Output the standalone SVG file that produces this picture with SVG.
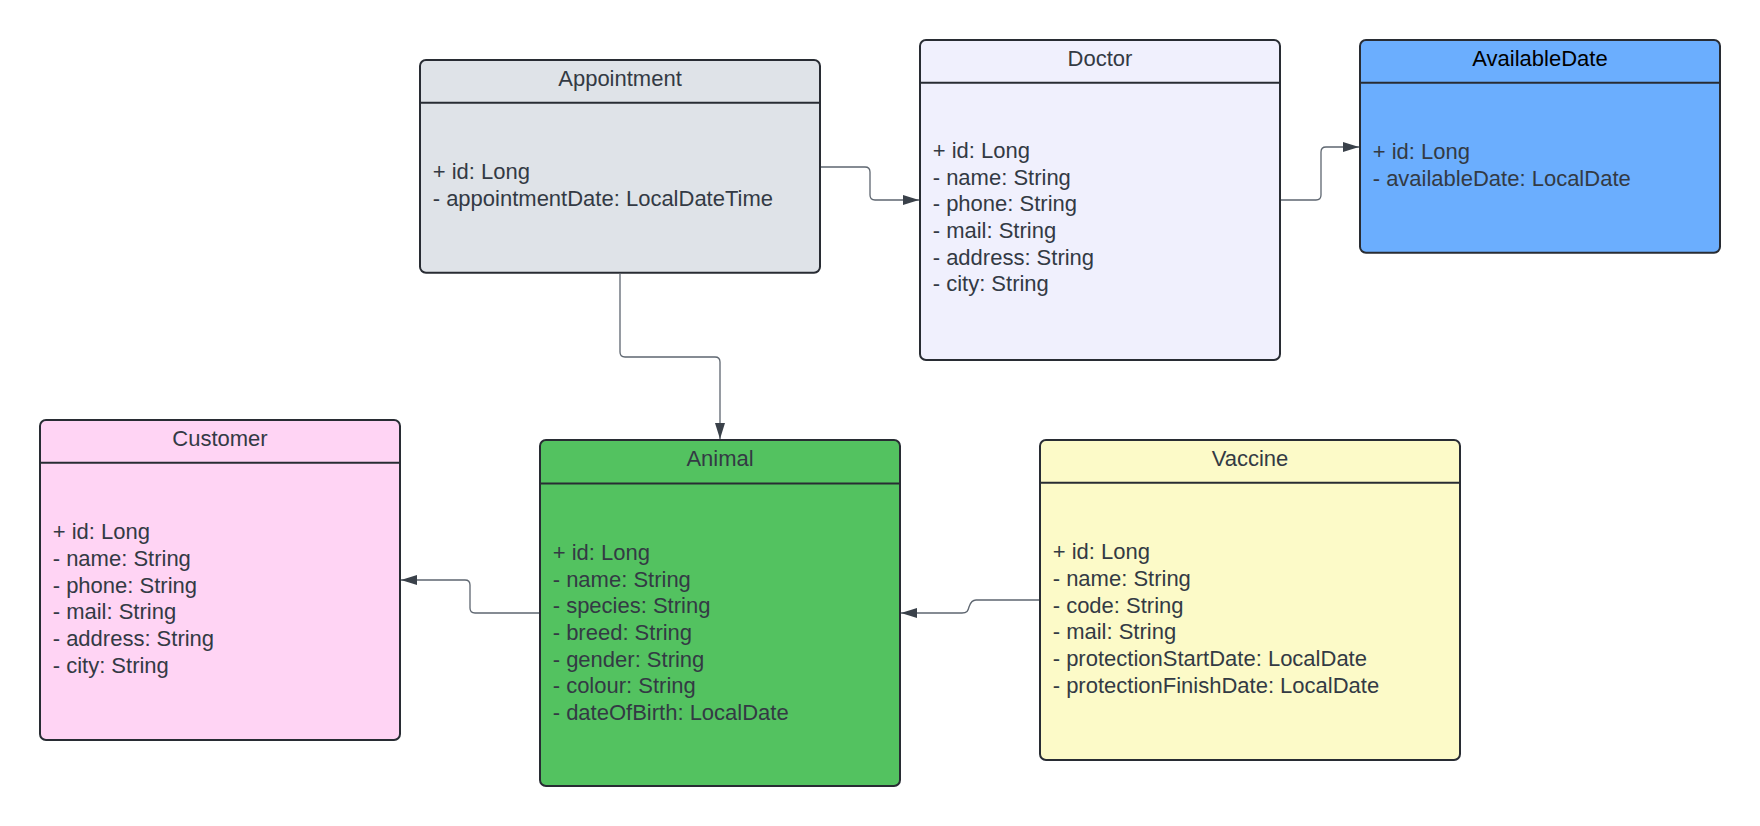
<svg xmlns="http://www.w3.org/2000/svg" width="1760" height="826" viewBox="0 0 1760 826">
<style>
.box{stroke:#282c33;stroke-width:2}
.hl{stroke:#282c33;stroke-width:2}
.t{font-family:"Liberation Sans",Arial,sans-serif;font-size:22px;fill:#333a44}
.ttl{text-anchor:middle}
.conn{fill:none;stroke:#5e6670;stroke-width:1.3}
</style>
<defs>
<marker id="arr" viewBox="0 0 16 10" refX="16" refY="5" markerWidth="16" markerHeight="10" markerUnits="userSpaceOnUse" orient="auto">
<path d="M0,0 L16,5 L0,10 Z" fill="#3a414a"/>
</marker>
</defs>
<rect width="1760" height="826" fill="#ffffff"/>
<g id="connectors">
<path class="conn" d="M821,167 H865 Q870,167 870,172 V195 Q870,200 875,200 H919" marker-end="url(#arr)"/>
<path class="conn" d="M1281,200 H1316 Q1321,200 1321,195 V152 Q1321,147 1326,147 H1359" marker-end="url(#arr)"/>
<path class="conn" d="M620,274 V352 Q620,357 625,357 H715 Q720,357 720,362 V439" marker-end="url(#arr)"/>
<path class="conn" d="M539,613 H475 Q470,613 470,608 V585 Q470,580 465,580 H401" marker-end="url(#arr)"/>
<path class="conn" d="M1039,600 H976 C971,600 970,604 969,607 C968,611 967,613 962,613 H901" marker-end="url(#arr)"/>
</g>
<g id="appointment">
<rect class="box" x="420" y="60" width="400" height="212.7" rx="6" fill="#dfe3e8"/>
<line class="hl" x1="420" y1="102.7" x2="820" y2="102.7"/>
<text class="t ttl" x="620" y="86">Appointment</text>
<text class="t" x="432.7" y="179">+ id: Long</text>
<text class="t" x="432.7" y="206">- appointmentDate: LocalDateTime</text>
</g>
<g id="doctor">
<rect class="box" x="920" y="40" width="360" height="320" rx="6" fill="#f0f0fd"/>
<line class="hl" x1="920" y1="82.7" x2="1280" y2="82.7"/>
<text class="t ttl" x="1100" y="66">Doctor</text>
<text class="t" x="932.7" y="158">+ id: Long</text>
<text class="t" x="932.7" y="184.7">- name: String</text>
<text class="t" x="932.7" y="211.3">- phone: String</text>
<text class="t" x="932.7" y="238">- mail: String</text>
<text class="t" x="932.7" y="264.7">- address: String</text>
<text class="t" x="932.7" y="291.3">- city: String</text>
</g>
<g id="availabledate">
<rect class="box" x="1360" y="40" width="360" height="212.7" rx="6" fill="#6baefe"/>
<line class="hl" x1="1360" y1="82.7" x2="1720" y2="82.7"/>
<text class="t ttl" x="1540" y="66" style="fill:#000000">AvailableDate</text>
<text class="t" x="1372.7" y="159">+ id: Long</text>
<text class="t" x="1372.7" y="185.7">- availableDate: LocalDate</text>
</g>
<g id="customer">
<rect class="box" x="40" y="420" width="360" height="320" rx="6" fill="#ffd4f4"/>
<line class="hl" x1="40" y1="462.7" x2="400" y2="462.7"/>
<text class="t ttl" x="220" y="446">Customer</text>
<text class="t" x="52.7" y="539.3">+ id: Long</text>
<text class="t" x="52.7" y="566">- name: String</text>
<text class="t" x="52.7" y="592.7">- phone: String</text>
<text class="t" x="52.7" y="619.3">- mail: String</text>
<text class="t" x="52.7" y="646">- address: String</text>
<text class="t" x="52.7" y="672.7">- city: String</text>
</g>
<g id="animal">
<rect class="box" x="540" y="440" width="360" height="346" rx="6" fill="#53c260"/>
<line class="hl" x1="540" y1="483.5" x2="900" y2="483.5"/>
<text class="t ttl" x="720" y="466">Animal</text>
<text class="t" x="552.7" y="560">+ id: Long</text>
<text class="t" x="552.7" y="586.7">- name: String</text>
<text class="t" x="552.7" y="613.3">- species: String</text>
<text class="t" x="552.7" y="640">- breed: String</text>
<text class="t" x="552.7" y="666.7">- gender: String</text>
<text class="t" x="552.7" y="693.3">- colour: String</text>
<text class="t" x="552.7" y="720">- dateOfBirth: LocalDate</text>
</g>
<g id="vaccine">
<rect class="box" x="1040" y="440" width="420" height="320" rx="6" fill="#fcfac8"/>
<line class="hl" x1="1040" y1="482.7" x2="1460" y2="482.7"/>
<text class="t ttl" x="1250" y="466">Vaccine</text>
<text class="t" x="1052.7" y="559.3">+ id: Long</text>
<text class="t" x="1052.7" y="586">- name: String</text>
<text class="t" x="1052.7" y="612.7">- code: String</text>
<text class="t" x="1052.7" y="639.3">- mail: String</text>
<text class="t" x="1052.7" y="666">- protectionStartDate: LocalDate</text>
<text class="t" x="1052.7" y="692.7">- protectionFinishDate: LocalDate</text>
</g>
</svg>
